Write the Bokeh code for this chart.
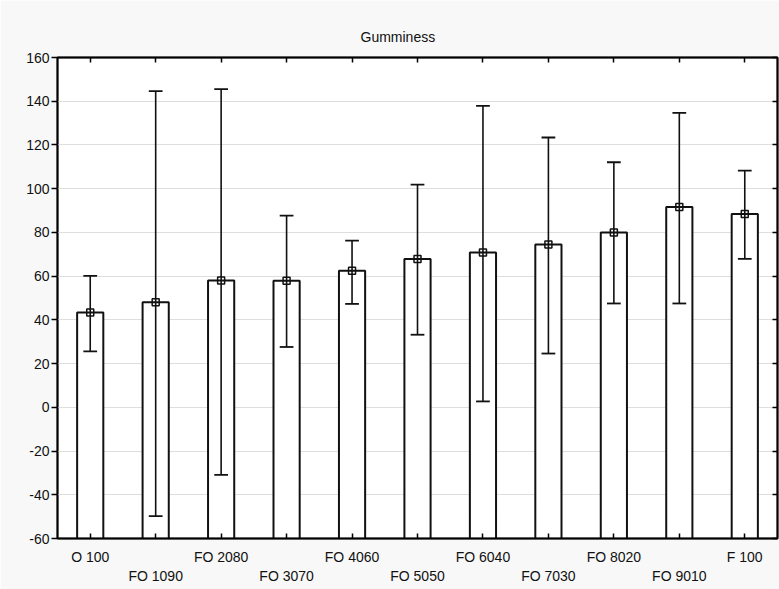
from bokeh.plotting import figure
from bokeh.models import Range1d, FixedTicker, LinearAxis
from bokeh.embed import file_html
from bokeh.resources import INLINE

categories = ["O 100", "FO 1090", "FO 2080", "FO 3070", "FO 4060", "FO 5050",
              "FO 6040", "FO 7030", "FO 8020", "FO 9010", "F 100"]
means = [43.4, 48.0, 58.0, 57.9, 62.5, 67.8, 70.8, 74.5, 80.0, 91.6, 88.4]
lower = [25.6, -49.8, -30.9, 27.6, 47.3, 33.2, 2.7, 24.6, 47.5, 47.5, 67.9]
upper = [60.1, 144.6, 145.5, 87.7, 76.2, 101.9, 137.9, 123.4, 112.1, 134.7, 108.3]
y_ticks = [-60, -40, -20, 0, 20, 40, 60, 80, 100, 120, 140, 160]

FONT = "Liberation Sans"
FS = "14px"

xs = list(range(len(categories)))
y_min, y_max = y_ticks[0], y_ticks[-1]

p = figure(frame_width=720, frame_height=481, output_backend="svg", toolbar_location=None,
           x_range=Range1d(-0.5, len(categories) - 0.5), y_range=Range1d(y_min, y_max),
           x_axis_location=None, y_axis_location=None,
           min_border_left=57, min_border_right=2, min_border_top=57, min_border_bottom=51,
           title="Gumminess")

p.background_fill_color = "white"
p.border_fill_color = "#f8f8f8"
p.outline_line_color = "black"
p.outline_line_width = 2

p.title.text_font = FONT
p.title.text_font_size = FS
p.title.text_font_style = "normal"
p.title.align = "left"
p.title.offset = 303
p.title.standoff = 25
p.title.text_color = "#111111"

# axes
left = LinearAxis(ticker=FixedTicker(ticks=y_ticks))
left.major_tick_out = 6
left.major_tick_in = 0
left.minor_tick_line_color = None
left.major_label_standoff = 2
left.major_label_overrides = {t: str(t) for t in y_ticks}
p.add_layout(left, "left")

right = LinearAxis(ticker=FixedTicker(ticks=y_ticks))
right.major_tick_out = 0
right.major_tick_in = 5
right.minor_tick_line_color = None
right.major_label_overrides = {t: "" for t in y_ticks}
right.major_label_standoff = 0
p.add_layout(right, "right")

bottom = LinearAxis(ticker=FixedTicker(ticks=xs))
bottom.major_tick_out = 0
bottom.major_tick_in = 5
bottom.minor_tick_line_color = None
bottom.major_label_overrides = {i: (c if i % 2 == 0 else "\n" + c) for i, c in enumerate(categories)}
bottom.major_label_standoff = 10
p.add_layout(bottom, "below")

top = LinearAxis(ticker=FixedTicker(ticks=xs))
top.major_tick_out = 0
top.major_tick_in = 5
top.minor_tick_line_color = None
top.major_label_overrides = {i: "" for i in xs}
top.major_label_standoff = 0
p.add_layout(top, "above")

for ax in (left, right, bottom, top):
    ax.axis_line_color = "black"
    ax.axis_line_width = 1.5
    ax.major_tick_line_color = "black"
    ax.major_tick_line_width = 1.5
    ax.major_label_text_font = FONT
    ax.major_label_text_font_size = FS
    ax.major_label_text_color = "#111111"

p.xgrid.visible = False
p.ygrid.ticker = FixedTicker(ticks=y_ticks)
p.ygrid.grid_line_color = "#dedede"
p.ygrid.grid_line_width = 1

# bars
p.vbar(x=xs, top=means, bottom=y_min, width=0.4, fill_color="white",
       line_color="#111111", line_width=2)

# whiskers
p.segment(x0=xs, y0=lower, x1=xs, y1=upper, line_color="#111111", line_width=1.6)
cap = 0.105
p.segment(x0=[x - cap for x in xs], y0=upper, x1=[x + cap for x in xs], y1=upper,
          line_color="#111111", line_width=1.8)
p.segment(x0=[x - cap for x in xs], y0=lower, x1=[x + cap for x in xs], y1=lower,
          line_color="#111111", line_width=1.8)

# mean markers
p.scatter(x=xs, y=means, marker="square", size=7, fill_color=None,
          line_color="#111111", line_width=1.5)

open("out.html", "w").write(file_html(p, INLINE))
